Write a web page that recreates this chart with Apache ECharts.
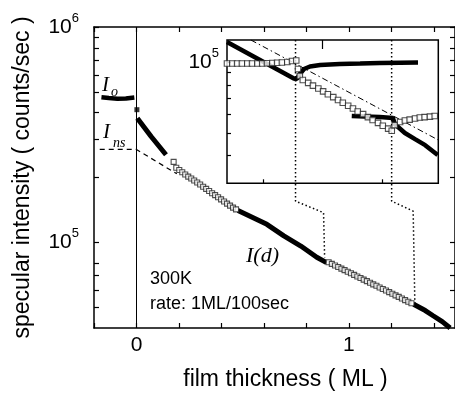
<!DOCTYPE html>
<html>
<head>
<meta charset="utf-8">
<script src="https://cdn.jsdelivr.net/npm/echarts@6/dist/echarts.min.js"></script>
<style>
  html, body { margin: 0; padding: 0; background: #fff; }
  #chart { width: 455px; height: 396px; }
</style>
</head>
<body>
<div id="chart"></div>
<script>
// ---- axes ----
const xTicks = [-0.2, 0, 0.2, 0.4, 0.6, 0.8, 1.0, 1.2, 1.4];
const xLabels = [0, 1];
const yTicks = [5e4, 6e4, 7e4, 8e4, 1e5, 2e5, 3e5, 4e5, 5e5, 6e5, 7e5, 8e5, 9e5, 1e6];
const yLabels = [1e5, 1e6];
const insetXTicks = [1, 3];
const insetXMajor = [2];
const insetYTicks = [4e4, 5e4, 6e4, 7e4, 8e4, 9e4, 1e5];
const insetYLabels = [1e5];

// ---- main panel: thickness (ML) vs intensity (counts/sec) ----
const ioLevel = [[-0.165, 4.72e5], [-0.13, 4.68e5], [-0.09, 4.64e5], [-0.05, 4.65e5], [-0.01, 4.70e5]];
const jumpPoint = [[0.002, 4.13e5]];
const earlyFilled = [[0.004, 3.77e5], [0.069, 3.10e5], [0.139, 2.55e5]];
const insLine = [[-0.173, 2.70e5], [0, 2.70e5], [0.19, 2.08e5]];
const openA = [
  [0.175, 2.364e5], [0.1875, 2.220e5], [0.2016, 2.166e5], [0.2157, 2.116e5], [0.2297, 2.065e5],
  [0.2438, 2.019e5], [0.2579, 1.979e5], [0.2719, 1.936e5], [0.2860, 1.896e5], [0.3000, 1.856e5],
  [0.3141, 1.813e5], [0.3282, 1.771e5], [0.3422, 1.730e5], [0.3563, 1.690e5], [0.3704, 1.656e5],
  [0.3844, 1.620e5], [0.3985, 1.582e5], [0.4126, 1.547e5], [0.4266, 1.512e5], [0.4407, 1.481e5],
  [0.4548, 1.449e5], [0.4688, 1.422e5]
];
const filledB = [[0.478, 1.405e5], [0.614, 1.212e5], [0.694, 1.072e5], [0.774, 9.61e4], [0.849, 8.52e4], [0.895, 8.05e4]];
const openC = [
  [0.905, 8.08e4], [0.920, 7.94e4], [0.935, 7.81e4], [0.950, 7.68e4], [0.965, 7.55e4],
  [0.980, 7.43e4], [0.995, 7.30e4], [1.010, 7.18e4], [1.025, 7.06e4], [1.040, 6.94e4],
  [1.055, 6.83e4], [1.070, 6.71e4], [1.085, 6.60e4], [1.100, 6.49e4], [1.115, 6.38e4],
  [1.130, 6.28e4], [1.145, 6.17e4], [1.160, 6.07e4], [1.175, 5.97e4], [1.190, 5.87e4],
  [1.205, 5.77e4], [1.220, 5.67e4], [1.235, 5.58e4], [1.250, 5.48e4], [1.265, 5.39e4],
  [1.280, 5.30e4], [1.295, 5.21e4]
];
const filledD = [[1.305, 5.16e4], [1.36, 4.82e4], [1.397, 4.56e4], [1.44, 4.28e4], [1.477, 4.0e4]];
const guide1 = [[0.749, 8.71e5], [0.749, 1.553e5], [0.881, 1.373e5], [0.886, 8.5e4]];
const guide2 = [[1.2016, 8.71e5], [1.2016, 1.553e5], [1.303, 1.396e5], [1.311, 5.16e4]];

// ---- inset ----
const insetFilledA = [
  [0.40, 1.216e5], [1.52, 8.51e4], [1.57, 8.47e4], [1.62, 8.89e4], [1.69, 9.34e4], [1.79, 9.57e4],
  [1.96, 9.71e4], [2.29, 9.81e4], [2.63, 9.85e4], [2.96, 9.90e4], [3.30, 9.93e4], [3.60, 9.95e4]
];
const insetFilledB = [
  [2.49, 5.89e4], [2.71, 5.86e4], [2.96, 5.83e4], [3.18, 5.78e4], [3.21, 5.45e4],
  [3.38, 4.99e4], [3.55, 4.70e4], [3.72, 4.43e4], [3.93, 4.02e4]
];
const insetOpen = [
  [0.40, 9.85e4], [0.49, 9.85e4], [0.57, 9.85e4], [0.65, 9.85e4], [0.74, 9.85e4], [0.82, 9.85e4],
  [0.91, 9.85e4], [0.99, 9.85e4], [1.07, 9.87e4], [1.16, 9.90e4], [1.24, 9.92e4], [1.32, 9.95e4],
  [1.41, 1.0e5], [1.49, 1.01e5], [1.56, 1.015e5], [1.59, 9.34e4], [1.62, 8.72e4], [1.67, 8.38e4],
  [1.76, 8.15e4], [1.84, 7.93e4], [1.93, 7.71e4], [2.01, 7.50e4], [2.09, 7.29e4], [2.18, 7.09e4],
  [2.26, 6.89e4], [2.34, 6.71e4], [2.43, 6.52e4], [2.51, 6.34e4], [2.59, 6.16e4], [2.68, 6.00e4],
  [2.76, 5.83e4], [2.84, 5.67e4], [2.93, 5.51e4], [3.01, 5.36e4], [3.10, 5.21e4], [3.16, 5.10e4],
  [3.21, 5.39e4], [3.30, 5.56e4], [3.38, 5.64e4], [3.46, 5.69e4], [3.55, 5.75e4], [3.63, 5.81e4],
  [3.71, 5.83e4], [3.80, 5.86e4], [3.88, 5.89e4]
];
const insetRef = [[0.80, 1.24e5], [3.94, 4.66e4]];

const chart = echarts.init(document.getElementById("chart"));

const sans = "'Liberation Sans', Arial, sans-serif";
const serif = "'Liberation Serif', 'Times New Roman', serif";
const black = "#000";

const powLabel = (v) => "{b|10}{s|" + Math.round(Math.log10(v)) + "}";
const powRich = {
  b: { fontSize: 21, fontFamily: sans, color: black, lineHeight: 30 },
  s: { fontSize: 13, fontFamily: sans, color: black, verticalAlign: "top", lineHeight: 14 },
};

const filledLine = (data, xi, yi, w) => ({
  type: "line", data: data, xAxisIndex: xi, yAxisIndex: yi,
  symbol: "none", silent: true, z: 3,
  lineStyle: { color: black, width: w },
});
const openSquares = (data, xi, yi, size) => ({
  type: "scatter", data: data, xAxisIndex: xi, yAxisIndex: yi,
  symbol: "rect", symbolSize: size, silent: true, z: 4,
  itemStyle: { color: "#fff", borderColor: "#222", borderWidth: 1.1 },
});
const dottedPath = (data) => ({
  type: "line", data: data, xAxisIndex: 0, yAxisIndex: 0,
  symbol: "none", silent: true, z: 2,
  lineStyle: { color: black, width: 1.5, type: [1.5, 2.5] },
});

chart.setOption({
  backgroundColor: "#fff",
  animation: false,
  grid: [
    { left: 94, top: 27, width: 362.7, height: 302 },
    { left: 227, top: 40, width: 211.3, height: 143.3, show: true,
      borderColor: black, borderWidth: 1.5, backgroundColor: "transparent" },
  ],
  xAxis: [
    {
      gridIndex: 0, type: "value", min: -0.2, max: 1.5, position: "bottom",
      name: "film thickness ( ML )", nameLocation: "middle", nameGap: 40,
      nameTextStyle: { fontSize: 23, fontFamily: sans, color: black, padding: [0, 0, 0, 22] },
      axisLine: { show: true, onZero: false, lineStyle: { color: black, width: 1.5 } },
      axisTick: { inside: true, length: 5, customValues: xTicks, lineStyle: { color: black, width: 1.2 } },
      axisLabel: { customValues: xLabels, fontSize: 21, fontFamily: sans, color: black, margin: 7 },
      splitLine: { show: false },
    },
    {
      gridIndex: 0, type: "value", min: -0.2, max: 1.5, position: "top",
      axisLine: { show: true, onZero: false, lineStyle: { color: black, width: 1.5 } },
      axisTick: { inside: true, length: 5, customValues: xTicks, lineStyle: { color: black, width: 1.2 } },
      axisLabel: { show: false }, splitLine: { show: false },
    },
    {
      gridIndex: 1, type: "value", min: 0.4, max: 3.94,
      axisLine: { show: false, onZero: false },
      axisTick: { inside: true, length: 4, customValues: insetXTicks, lineStyle: { color: black, width: 1.2 } },
      axisLabel: { show: false }, splitLine: { show: false },
    },
    {
      gridIndex: 1, type: "value", min: 0.4, max: 3.94,
      axisLine: { show: false, onZero: false },
      axisTick: { inside: true, length: 9, customValues: insetXMajor, lineStyle: { color: black, width: 1.2 } },
      axisLabel: { show: false }, splitLine: { show: false },
    },
  ],
  yAxis: [
    {
      gridIndex: 0, type: "log", logBase: 10, min: 4e4, max: 1e6, position: "left",
      name: "specular intensity ( counts/sec )", nameLocation: "middle", nameGap: 60,
      nameTextStyle: { fontSize: 23, fontFamily: sans, color: black },
      axisLine: { show: true, onZero: false, lineStyle: { color: black, width: 1.5 } },
      axisTick: { inside: true, length: 5, customValues: yTicks, lineStyle: { color: black, width: 1.2 } },
      axisLabel: { customValues: yLabels, formatter: powLabel, rich: powRich, margin: 15 },
      splitLine: { show: false }, minorTick: { show: false },
    },
    {
      gridIndex: 0, type: "log", logBase: 10, min: 4e4, max: 1e6, position: "right",
      axisLine: { show: true, onZero: false, lineStyle: { color: black, width: 1.5 } },
      axisTick: { inside: true, length: 5, customValues: yTicks, lineStyle: { color: black, width: 1.2 } },
      axisLabel: { show: false }, splitLine: { show: false },
    },
    {
      gridIndex: 1, type: "log", logBase: 10, min: 3.05e4, max: 1.24e5,
      axisLine: { show: false, onZero: false },
      axisTick: { inside: true, length: 4, customValues: insetYTicks, lineStyle: { color: black, width: 1.2 } },
      axisLabel: { customValues: insetYLabels, formatter: powLabel, rich: powRich, margin: 8 },
      splitLine: { show: false },
    },
  ],
  graphic: [
    { type: "text", left: 102, top: 75, style: { text: "I", font: "italic 21px " + serif, fill: black } },
    { type: "text", left: 111, top: 85, style: { text: "o", font: "italic 14px " + serif, fill: black } },
    { type: "text", left: 103, top: 122, style: { text: "I", font: "italic 21px " + serif, fill: black } },
    { type: "text", left: 113, top: 136, style: { text: "ns", font: "italic 14px " + serif, fill: black } },
    { type: "text", left: 246, top: 245, style: { text: "I(d)", font: "italic 22px " + serif, fill: black } },
    { type: "text", left: 150, top: 270, style: { text: "300K", font: "18px " + sans, fill: black } },
    { type: "text", left: 150, top: 295, style: { text: "rate: 1ML/100sec", font: "18px " + sans, fill: black } },
  ],
  series: [
    Object.assign(filledLine(ioLevel, 0, 0, 4.5), {
      markLine: {
        silent: true, symbol: ["none", "none"], label: { show: false },
        lineStyle: { color: black, width: 1, type: "solid" },
        data: [{ xAxis: 0 }],
      },
    }),
    {
      type: "scatter", data: jumpPoint, xAxisIndex: 0, yAxisIndex: 0,
      symbol: "rect", symbolSize: 5, silent: true, z: 4, itemStyle: { color: black },
    },
    filledLine(earlyFilled, 0, 0, 5),
    {
      type: "line", data: insLine, xAxisIndex: 0, yAxisIndex: 0, symbol: "none", silent: true,
      lineStyle: { color: black, width: 1.2, type: [5, 4] },
    },
    openSquares(openA, 0, 0, 5),
    filledLine(filledB, 0, 0, 5),
    openSquares(openC, 0, 0, 5),
    filledLine(filledD, 0, 0, 5),
    dottedPath(guide1),
    dottedPath(guide2),
    filledLine(insetFilledA, 2, 2, 4.5),
    filledLine(insetFilledB, 2, 2, 4.5),
    openSquares(insetOpen, 2, 2, 5.5),
    {
      type: "line", data: insetRef, xAxisIndex: 2, yAxisIndex: 2, symbol: "none", silent: true,
      lineStyle: { color: black, width: 1, type: [6, 3, 1.5, 3] },
    },
  ],
});
</script>
</body>
</html>
